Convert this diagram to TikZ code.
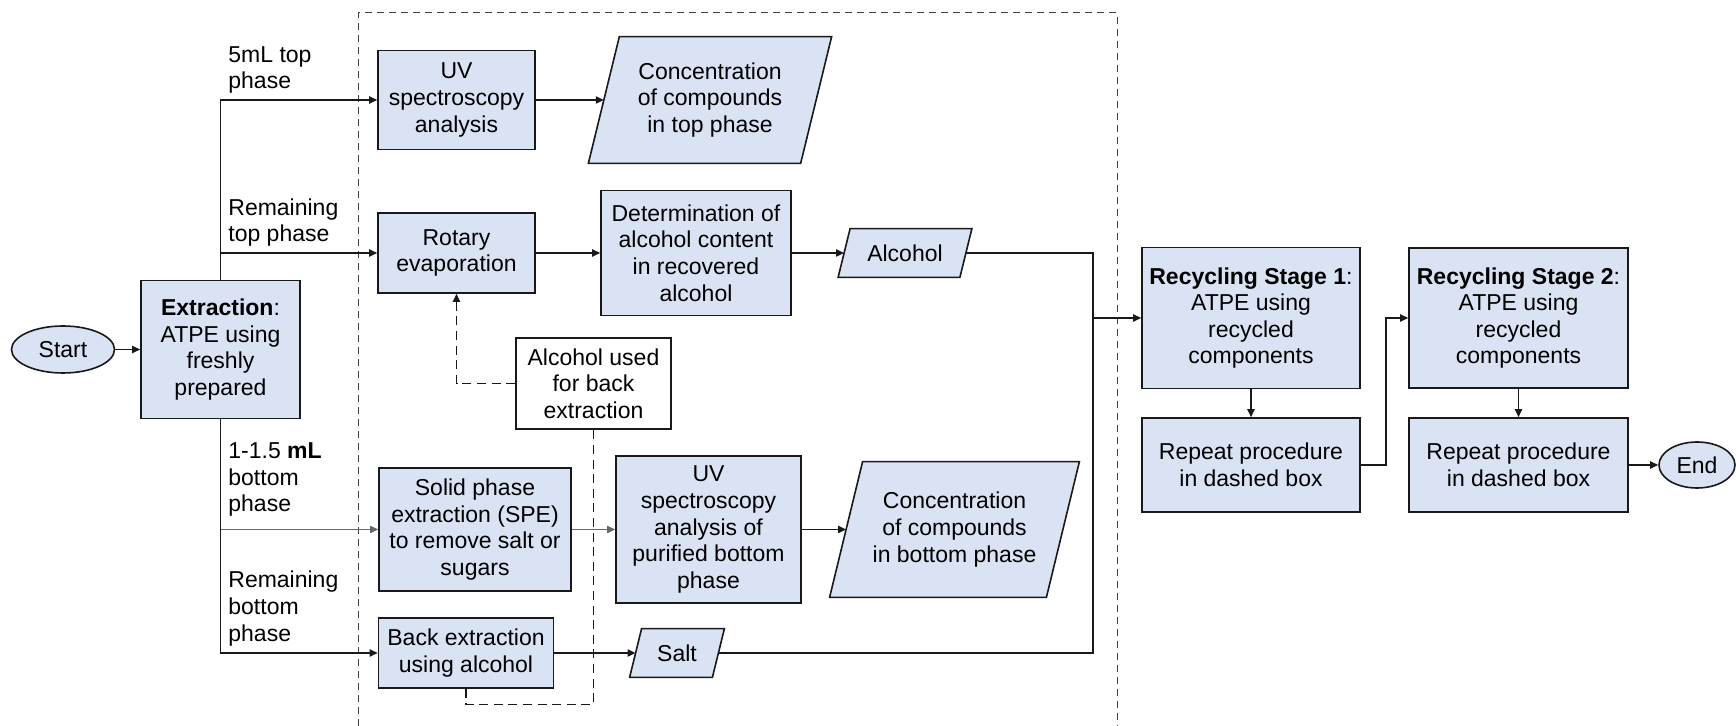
\documentclass[tikz,border=0pt]{standalone}
\usepackage{fontspec}
\setmainfont{Liberation Sans}
\usetikzlibrary{arrows.meta,backgrounds,shapes.geometric}
\definecolor{boxfill}{RGB}{218,227,243}
\definecolor{lineblack}{RGB}{25,25,25}
\newcommand\drawpara[2]{%
  \draw[procbox] ([xshift=#2]#1.north west) -- ([xshift=#2]#1.north east) -- ([xshift=-#2]#1.south east) -- ([xshift=-#2]#1.south west) -- cycle;}
\begin{document}
\begin{tikzpicture}[x=0.5pt,y=-0.5pt,
  every node/.style={font=\fontsize{11.5}{13.3}\selectfont, align=center, inner sep=0pt},
  procbox/.style={draw=lineblack, fill=boxfill, line width=0.8pt},
  whitebox/.style={draw=lineblack, fill=white, line width=0.8pt},
  sz/.style 2 args={minimum width=#1*0.5pt, minimum height=#2*0.5pt},
  lbl/.style={anchor=west, align=left},
  conn/.style={draw=lineblack, line width=0.7pt},
  arr/.style={conn, -{Triangle[length=4pt,width=3.6pt]}},
  grayarr/.style={draw=gray!80!black, line width=0.5pt, -{Triangle[length=4pt,width=3.6pt]}},
  dsh/.style={dash pattern=on 4.5pt off 2.8pt},
  frame/.style={draw=black!75, line width=0.5pt, dash pattern=on 3.5pt off 2.5pt}
]
\useasboundingbox (0,0) rectangle (1736,726);

% dashed frame
\draw[frame] (358,726) -- (358,13) -- (1117,13) -- (1117,726);

% nodes
\node[procbox, ellipse, sz={103}{47}] (start) at (63,349.5) {Start};
\node[procbox, sz={159}{138}] (ext) at (220.5,349.5) {\textbf{Extraction}:\\ATPE using\\freshly\\prepared};
\node[procbox, sz={157}{99}] (uv1) at (456.5,100) {UV\\spectroscopy\\analysis};
\node[procbox, sz={157}{80}] (rot) at (456.5,253) {Rotary\\evaporation};
\node[procbox, sz={190}{125}] (det) at (696,253) {Determination of\\alcohol content\\in recovered\\alcohol};
\node[procbox, sz={192}{123}] (spe) at (475,529.5) {Solid phase\\extraction (SPE)\\to remove salt or\\sugars};
\node[procbox, sz={185}{147}] (uv2) at (708.5,529.5) {UV\\spectroscopy\\analysis of\\purified bottom\\phase};
\node[procbox, sz={175}{70}] (back) at (466,653) {Back extraction\\using alcohol};
\node[whitebox, sz={155}{91}] (alcu) at (593.5,383.5) {Alcohol used\\for back\\extraction};
\node[procbox, sz={218}{141}] (rec1) at (1251,318) {\textbf{Recycling Stage 1}:\\ATPE using\\recycled\\components};
\node[procbox, sz={218}{94}] (rep1) at (1251,465) {Repeat procedure\\in dashed box};
\node[procbox, sz={219}{140}] (rec2) at (1518.5,318) {\textbf{Recycling Stage 2}:\\ATPE using\\recycled\\components};
\node[procbox, sz={219}{94}] (rep2) at (1518.5,465) {Repeat procedure\\in dashed box};
\node[procbox, ellipse, sz={76}{46}] (end) at (1697,465) {End};

% parallelogram data nodes
\node[sz={211.5}{126}] (conc1) at (710,100) {Concentration\\of compounds\\in top phase};
\node[sz={121}{48}] (alc) at (905,253) {Alcohol};
\node[sz={216}{135}] (conc2) at (954.5,529.5) {Concentration\\of compounds\\in bottom phase};
\node[sz={82}{48}] (salt) at (677,653) {Salt};
\begin{scope}[on background layer]
  \drawpara{conc1}{7.75pt}
  \drawpara{alc}{3pt}
  \drawpara{conc2}{8.25pt}
  \drawpara{salt}{3pt}
\end{scope}

% labels
\node[lbl] (l1) at (228,70) {5mL top\\phase};
\node[lbl] (l2) at (228,222.5) {Remaining\\top phase};
\node[lbl] (l3) at (228,479.5) {1-1.5 \textbf{mL}\\bottom\\phase};
\node[lbl] (l4) at (228,608.5) {Remaining\\bottom\\phase};

% connectors
\draw[arr] (start) -- (ext);
\draw[arr] (ext.north) |- (uv1.west);
\draw[arr] (ext.north) |- (rot.west);
\draw[grayarr] (ext.south) |- (spe.west);
\draw[arr] (ext.south) |- (back.west);
\draw[arr] (uv1.east) -- (conc1.west);
\draw[arr] (rot) -- (det);
\draw[arr] (det) -- (alc.west);
\draw[grayarr] (spe) -- (uv2);
\draw[arr] (uv2) -- (conc2.west);
\draw[arr] (back) -- (salt.west);
\coordinate (jb) at (1093,653);
\coordinate (jm) at (1093,318);
\draw[conn] (alc.east) -| (jb) -- (salt.east);
\draw[arr] (jm) -- (rec1.west);
\draw[arr] (rec1) -- (rep1);
\draw[arr] (rep1.east) -- ++(25,0) |- (rec2.west);
\draw[arr] (rec2) -- (rep2);
\draw[arr] (rep2) -- (end);

% dashed alcohol links
\draw[arr, dsh] (alcu.west) -| (rot.south);
\draw[conn, dsh] (back.south) -- ++(0,16) -| (alcu.south);
\end{tikzpicture}
\end{document}
